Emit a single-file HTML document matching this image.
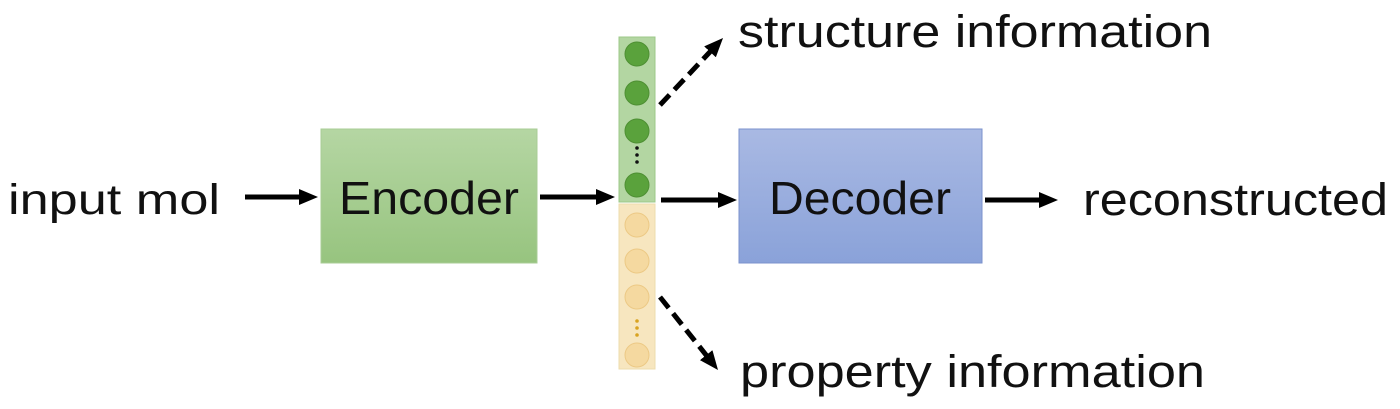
<!DOCTYPE html>
<html><head><meta charset="utf-8"><style>
html,body{margin:0;padding:0;background:#fff;width:1400px;height:409px;overflow:hidden}
text{font-family:"Liberation Sans",sans-serif;fill:#111}
</style></head><body>
<svg width="1400" height="409" viewBox="0 0 1400 409">
<defs>
<linearGradient id="gG" x1="0" y1="0" x2="0" y2="1"><stop offset="0" stop-color="#b5d6a3"/><stop offset="1" stop-color="#97c47f"/></linearGradient>
<linearGradient id="gB" x1="0" y1="0" x2="0" y2="1"><stop offset="0" stop-color="#a9b9e3"/><stop offset="1" stop-color="#8aa2d9"/></linearGradient>
<marker id="ah" markerWidth="19" markerHeight="18" refX="1" refY="9" orient="auto" markerUnits="userSpaceOnUse"><path d="M0,1 L19,9 L0,17 z" fill="#000"/></marker>
</defs>
<text x="8" y="214" font-size="43" textLength="212" lengthAdjust="spacingAndGlyphs">input mol</text>
<line x1="245" y1="197" x2="300" y2="197" stroke="#000" stroke-width="5" marker-end="url(#ah)"/>
<rect x="321" y="129" width="216" height="134" fill="url(#gG)" stroke="#a8cc96"/>
<text x="429" y="214" font-size="46" text-anchor="middle" textLength="180" lengthAdjust="spacingAndGlyphs">Encoder</text>
<line x1="540" y1="197" x2="597" y2="197" stroke="#000" stroke-width="5" marker-end="url(#ah)"/>
<rect x="619" y="37" width="36" height="165" fill="#b3d6a2" stroke="#9cc888"/>
<rect x="619" y="204" width="36" height="165" fill="#f7e6bf" stroke="#eedcae"/>
<g fill="#5aa23c" stroke="#4e8f33">
<circle cx="637" cy="54" r="12"/><circle cx="637" cy="93" r="12"/><circle cx="637" cy="131" r="12"/><circle cx="637" cy="185" r="12"/>
</g>
<g fill="#111"><circle cx="637" cy="148" r="1.8"/><circle cx="637" cy="155" r="1.8"/><circle cx="637" cy="162" r="1.8"/></g>
<g fill="#f5d9a0" stroke="#ecc985">
<circle cx="637" cy="225" r="12"/><circle cx="637" cy="261" r="12"/><circle cx="637" cy="297" r="12"/><circle cx="637" cy="355" r="12"/>
</g>
<g fill="#d9a321"><circle cx="637" cy="321" r="1.8"/><circle cx="637" cy="328" r="1.8"/><circle cx="637" cy="335" r="1.8"/></g>
<line x1="661" y1="200" x2="719" y2="200" stroke="#000" stroke-width="5" marker-end="url(#ah)"/>
<line x1="660" y1="105" x2="710.7" y2="51.1" stroke="#000" stroke-width="5" stroke-dasharray="14,7" marker-end="url(#ah)"/>
<line x1="660" y1="297" x2="706.8" y2="355.9" stroke="#000" stroke-width="5" stroke-dasharray="14,7" marker-end="url(#ah)"/>
<rect x="739" y="129" width="243" height="134" fill="url(#gB)" stroke="#7b92cc"/>
<text x="860" y="214" font-size="46" text-anchor="middle" textLength="182" lengthAdjust="spacingAndGlyphs">Decoder</text>
<line x1="985" y1="200" x2="1040" y2="200" stroke="#000" stroke-width="5" marker-end="url(#ah)"/>
<text x="1083" y="215" font-size="45" textLength="305" lengthAdjust="spacingAndGlyphs">reconstructed</text>
<text x="738" y="47" font-size="45" textLength="474" lengthAdjust="spacingAndGlyphs">structure information</text>
<text x="740" y="387" font-size="45" textLength="465" lengthAdjust="spacingAndGlyphs">property information</text>
</svg>
</body></html>
